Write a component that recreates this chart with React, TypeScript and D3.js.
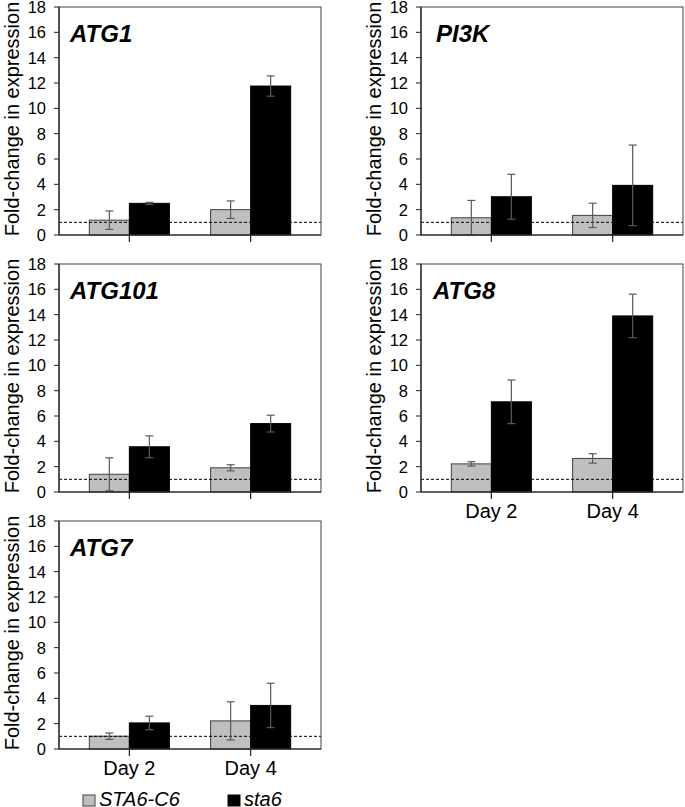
import React from "react";
import * as d3 from "d3";

// ---------- data ----------
const genes = ["ATG1", "PI3K", "ATG101", "ATG8", "ATG7"];
const days = ["Day 2", "Day 4"];
const strains = ["STA6-C6", "sta6"];
const yTicks = [0, 2, 4, 6, 8, 10, 12, 14, 16, 18];
const baseline = 1;

// values per gene: [Day 2, Day 4]
const controlMean = [[1.17, 2.0], [1.36, 1.55], [1.4, 1.91], [2.22, 2.65], [1.01, 2.22]];
const controlErr = [[0.73, 0.69], [1.37, 0.96], [1.3, 0.24], [0.17, 0.37], [0.25, 1.51]];
const mutantMean = [[2.5, 11.76], [3.02, 3.92], [3.57, 5.4], [7.12, 13.9], [2.06, 3.44]];
const mutantErr = [[0.08, 0.8], [1.77, 3.18], [0.86, 0.66], [1.72, 1.72], [0.53, 1.75]];

// ---------- layout ----------
const W = 685;
const H = 807;
const PW = 262;
const PH = 228;
const panelX = [59, 421, 59, 421, 59];
const panelY = [7, 7, 264, 264, 521];
const showDays = [false, false, false, true, true];
const labelDx = [11, 15, 11, 12, 11];
const FONT = "'Liberation Sans', Arial, sans-serif";
const fills = ["#bfbfbf", "#000000"];
const strokes = ["#404040", "#000000"];

function Panel({ gi }: { gi: number }) {
  const x = d3.scaleBand<string>().domain(days).range([0, PW]).paddingInner(0.34).paddingOuter(0.25);
  const xi = d3.scaleBand<string>().domain(strains).range([0, x.bandwidth()]).padding(0);
  const y = d3.scaleLinear().domain([0, 18]).range([PH, 0]);
  const means = [controlMean[gi], mutantMean[gi]];
  const errs = [controlErr[gi], mutantErr[gi]];
  return (
    <g transform={`translate(${panelX[gi]},${panelY[gi]})`}>
      {/* bars */}
      {days.map((d, di) =>
        strains.map((s, si) => {
          const v = means[si][di];
          const bx = (x(d) as number) + (xi(s) as number);
          return (
            <rect
              key={d + s}
              x={bx}
              y={y(v)}
              width={xi.bandwidth()}
              height={y(0) - y(v)}
              fill={fills[si]}
              stroke={strokes[si]}
              strokeWidth={1}
            />
          );
        })
      )}
      {/* baseline dashed line */}
      <line x1={0} x2={PW} y1={y(baseline)} y2={y(baseline)} stroke="#000" strokeWidth={1} strokeDasharray="3,2" />
      {/* error bars */}
      {days.map((d, di) =>
        strains.map((s, si) => {
          const v = means[si][di];
          const e = errs[si][di];
          const cx = (x(d) as number) + (xi(s) as number) + xi.bandwidth() / 2;
          const y1 = y(v + e);
          const y2 = y(Math.max(0, v - e));
          return (
            <g key={"e" + d + s} stroke="#5a5a5a" strokeWidth={1.2}>
              <line x1={cx} x2={cx} y1={y1} y2={y2} />
              <line x1={cx - 4} x2={cx + 4} y1={y1} y2={y1} />
              <line x1={cx - 4} x2={cx + 4} y1={y2} y2={y2} />
            </g>
          );
        })
      )}
      {/* frame */}
      <rect x={0} y={0} width={PW} height={PH} fill="none" stroke="#404040" strokeWidth={1} />
      <line x1={0} x2={0} y1={0} y2={PH} stroke="#222" strokeWidth={1.2} />
      <line x1={0} x2={PW} y1={PH} y2={PH} stroke="#222" strokeWidth={1.2} />
      {/* y ticks */}
      {yTicks.map((t) => (
        <g key={t}>
          <line x1={-5} x2={0} y1={y(t)} y2={y(t)} stroke="#222" strokeWidth={1} />
          <text x={-13} y={y(t)} dy="0.36em" textAnchor="end" fontSize={16.5} fontFamily={FONT} fill="#000">
            {t}
          </text>
        </g>
      ))}
      {/* x ticks */}
      {days.map((d) => {
        const cx = (x(d) as number) + x.bandwidth() / 2;
        return (
          <g key={d}>
            <line x1={cx} x2={cx} y1={PH} y2={PH + 7} stroke="#222" strokeWidth={1.2} />
            {showDays[gi] && (
              <text x={cx} y={PH + 25.5} textAnchor="middle" fontSize={20} fontFamily={FONT} fill="#000">
                {d}
              </text>
            )}
          </g>
        );
      })}
      {/* gene label */}
      <text x={labelDx[gi]} y={35} fontSize={24} fontWeight="bold" fontStyle="italic" fontFamily={FONT} fill="#000">
        {genes[gi]}
      </text>
      {/* y axis title */}
      <text
        transform={`translate(${-40.5},${PH / 2 - 2}) rotate(-90)`}
        textAnchor="middle"
        fontSize={20}
        fontFamily={FONT}
        fill="#000"
      >
        Fold-change in expression
      </text>
    </g>
  );
}

export default function App() {
  const legendX = [83, 228];
  return (
    <svg
      width={W}
      height={H}
      style={{ position: "absolute", left: 0, top: 0, background: "#fff" }}
      xmlns="http://www.w3.org/2000/svg"
    >
      <rect x={0} y={0} width={W} height={H} fill="#fff" />
      {genes.map((g, gi) => (
        <Panel key={g} gi={gi} />
      ))}
      {strains.map((s, si) => (
        <g key={s}>
          <rect x={legendX[si]} y={795} width={12} height={11} fill={fills[si]} stroke={strokes[si]} strokeWidth={1} />
          <text x={legendX[si] + 16} y={806} fontSize={20} fontStyle="italic" fontFamily={FONT} fill="#000">
            {s}
          </text>
        </g>
      ))}
    </svg>
  );
}
